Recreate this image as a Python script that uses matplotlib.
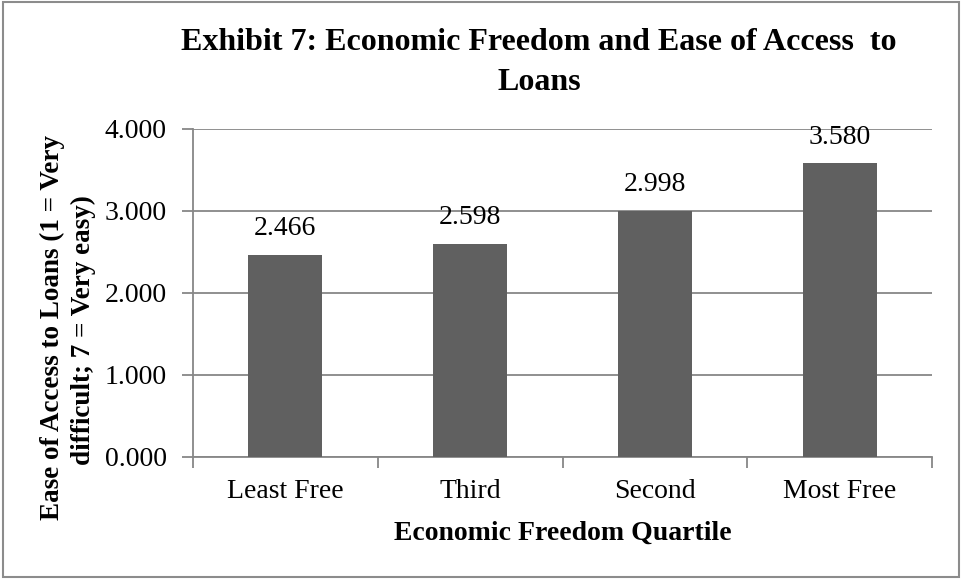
import matplotlib
matplotlib.use("Agg")
import matplotlib.pyplot as plt
from matplotlib.patches import Rectangle

categories = ["Least Free", "Third", "Second", "Most Free"]
values = [2.466, 2.598, 2.998, 3.580]
y_ticks = [0.0, 1.0, 2.0, 3.0, 4.0]

W, H = 961, 580
fig = plt.figure(figsize=(W / 100, H / 100), dpi=100)
fig.patch.set_facecolor("white")

# outer chart border
fig.add_artist(Rectangle((3 / W, 1 - 577 / H), (959 - 3) / W, (577 - 2) / H,
                         transform=fig.transFigure, fill=False,
                         edgecolor="#8c8c8c", linewidth=1.5))

left, right, top, bottom = 193, 932, 129, 457
ax = fig.add_axes([left / W, 1 - bottom / H, (right - left) / W, (bottom - top) / H])

grid_c = "#878787"
bar_c = "#606060"
serif = "Liberation Serif"
fs = 20

x = list(range(len(categories)))
ax.bar(x, values, width=0.4, color=bar_c, zorder=3)

for xi, v in zip(x, values):
    ax.annotate(f"{v:.3f}", (xi, v), xytext=(0, 10), textcoords="offset points",
                ha="center", va="bottom", fontsize=fs, family=serif, color="black")

ax.set_xlim(-0.5, len(categories) - 0.5)
ax.set_ylim(0, 4)
ax.set_yticks(y_ticks)
ax.set_yticklabels([f"{t:.3f}" for t in y_ticks], fontsize=fs, family=serif)
ax.set_xticks(x)
ax.set_xticklabels(categories, fontsize=fs, family=serif)
ax.set_xticks([i - 0.5 for i in range(len(categories) + 1)], minor=True)

ax.tick_params(axis="x", which="major", length=0, pad=16)
ax.tick_params(axis="x", which="minor", length=8, width=1.3, color=grid_c, direction="out")
ax.tick_params(axis="y", which="major", length=8, width=1.3, color=grid_c, direction="out", pad=11)

ax.yaxis.grid(True, color=grid_c, linewidth=1.3, zorder=0)
ax.set_axisbelow(True)
for s in ["top", "right"]:
    ax.spines[s].set_visible(False)
for s in ["left", "bottom"]:
    ax.spines[s].set_color(grid_c)
    ax.spines[s].set_linewidth(1.3)

ax.set_xlabel("Economic Freedom Quartile", fontsize=fs, family=serif,
              fontweight="bold", labelpad=12)

# two-line rotated y-axis title
fig.text(52 / W, 1 - 327 / H, "Ease of Access to Loans (1 = Very",
         rotation=90, ha="center", va="center", fontsize=19.5, family=serif,
         fontweight="bold")
fig.text(83 / W, 1 - 330 / H, "difficult; 7 = Very easy)",
         rotation=90, ha="center", va="center", fontsize=19.5, family=serif,
         fontweight="bold")

# two-line chart title
fig.text(539 / W, 1 - 50 / H, "Exhibit 7: Economic Freedom and Ease of Access  to",
         ha="center", va="baseline", fontsize=23, family=serif, fontweight="bold")
fig.text(539 / W, 1 - 90 / H, "Loans",
         ha="center", va="baseline", fontsize=23, family=serif, fontweight="bold")

fig.savefig("out.png", dpi=100)
